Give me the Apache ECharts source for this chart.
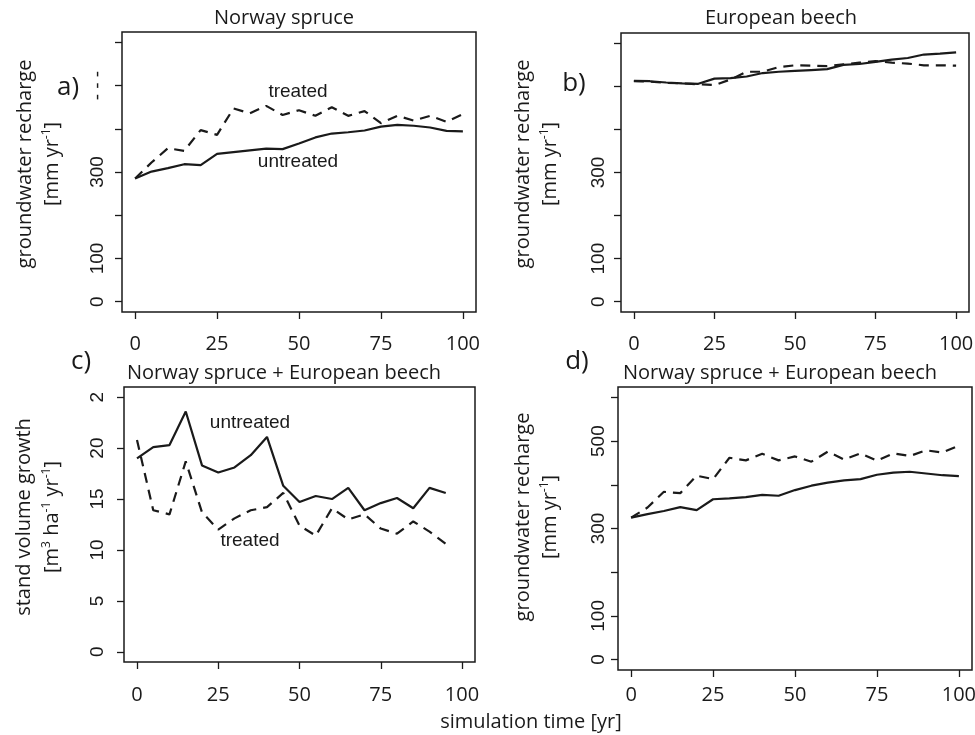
<!DOCTYPE html>
<html>
<head>
<meta charset="utf-8">
<script src="https://cdn.jsdelivr.net/npm/echarts@6/dist/echarts.min.js"></script>
<style>
html, body { margin: 0; padding: 0; background: #fff; }
#main { width: 975px; height: 735px; }
</style>
</head>
<body>
<div id="main"></div>
<script>
// simulation years
var years = [0, 5, 10, 15, 20, 25, 30, 35, 40, 45, 50, 55, 60, 65, 70, 75, 80, 85, 90, 95, 100];
var yearsC = [0, 5, 10, 15, 20, 25, 30, 35, 40, 45, 50, 55, 60, 65, 70, 75, 80, 85, 90, 95];
var xTicks = [0, 25, 50, 75, 100];
var rechargeTicks = [0, 100, 200, 300, 400, 500, 600];
var growthTicks = [0, 5, 10, 15, 20, 25];

// a) Norway spruce, groundwater recharge [mm/yr]
var aUntreated = [285, 301, 309, 318, 316, 342, 346, 350, 354, 353, 366, 380, 389, 392, 396, 405, 409, 407, 403, 395, 394];
var aTreated = [285, 322, 355, 349, 397, 386, 447, 436, 453, 432, 443, 430, 450, 430, 441, 413, 430, 419, 430, 416, 434];
// b) European beech
var bUntreated = [513, 512, 509, 507, 506, 518, 519, 523, 531, 534, 536, 538, 540, 550, 552, 557, 562, 566, 574, 576, 579];
var bTreated = [512, 511, 508, 507, 505, 503, 516, 534, 534, 545, 549, 548, 547, 551, 555, 559, 555, 553, 549, 549, 548];
// c) mixed stand, stand volume growth
var cUntreated = [19.0, 20.1, 20.3, 23.6, 18.3, 17.6, 18.1, 19.3, 21.1, 16.3, 14.7, 15.3, 15.0, 16.1, 13.9, 14.6, 15.1, 14.1, 16.1, 15.6];
var cTreated = [20.8, 13.9, 13.5, 18.7, 13.7, 12.0, 13.1, 13.9, 14.2, 15.6, 12.4, 11.4, 14.1, 13.0, 13.5, 12.1, 11.6, 12.8, 11.8, 10.6];
// d) mixed stand, groundwater recharge
var dUntreated = [325, 333, 340, 349, 342, 367, 369, 372, 377, 375, 388, 398, 405, 410, 413, 423, 428, 430, 426, 422, 420];
var dTreated = [325, 348, 384, 381, 421, 413, 462, 456, 471, 456, 465, 453, 476, 458, 472, 455, 472, 466, 479, 474, 490];

function pairs(xs, ys) {
	return xs.map(function(x, i) { return [x, ys[i]]; });
}

var INK = '#1a1a1a';
var CAL = '"Open Sans", "Noto Sans", sans-serif';
var ARIAL = '"Liberation Sans", Arial, sans-serif';

var grids = [
	{ left: 122, top: 32, width: 354, height: 280 },
	{ left: 621, top: 33, width: 348, height: 279 },
	{ left: 124, top: 387, width: 351, height: 275 },
	{ left: 618, top: 387, width: 354, height: 283 }
];
var xMargins = [22, 22, 23, 15];
var yMargins = [15, 13, 17, 10];

var xAxes = grids.map(function(g, i) {
	return {
		gridIndex: i, type: 'value', min: -4, max: 104,
		splitLine: { show: false },
		axisLine: { show: false, onZero: false },
		axisTick: { show: true, length: 7, customValues: xTicks, lineStyle: { color: INK, width: 1.3 } },
		axisLabel: { customValues: xTicks, margin: xMargins[i], fontFamily: CAL, fontSize: 20, color: INK }
	};
});

function yAxis(i, min, max, ticks, fmt) {
	return {
		gridIndex: i, type: 'value', min: min, max: max,
		splitLine: { show: false },
		axisLine: { show: false, onZero: false },
		axisTick: { show: true, length: 7, customValues: ticks, lineStyle: { color: INK, width: 1.3 } },
		axisLabel: {
			customValues: ticks, rotate: 90, margin: yMargins[i], fontFamily: ARIAL, fontSize: 19, color: INK,
			formatter: fmt
		}
	};
}

var yAxes = [
	yAxis(0, -24, 624, rechargeTicks, function(v) {
		return { 0: '0', 100: '100', 300: '300', 500: '- - -' }[v] || '';
	}),
	yAxis(1, -24, 624, rechargeTicks, function(v) {
		return { 0: '0', 100: '100', 300: '300' }[v] || '';
	}),
	yAxis(2, -1, 26, growthTicks, function(v) {
		return v === 25 ? '2' : String(v);
	}),
	yAxis(3, -24, 624, rechargeTicks, function(v) {
		return { 0: '0', 100: '100', 300: '300', 500: '500' }[v] || '';
	})
];

function line(i, data, dashed) {
	return {
		type: 'line', xAxisIndex: i, yAxisIndex: i, data: data,
		showSymbol: false, silent: true, animation: false,
		lineStyle: { color: INK, width: 2.2, type: dashed ? [10, 7] : 'solid' }
	};
}

var series = [
	line(0, pairs(years, aUntreated), false),
	line(0, pairs(years, aTreated), true),
	line(1, pairs(years, bUntreated), false),
	line(1, pairs(years, bTreated), true),
	line(2, pairs(yearsC, cUntreated), false),
	line(2, pairs(yearsC, cTreated), true),
	line(3, pairs(years, dUntreated), false),
	line(3, pairs(years, dTreated), true)
];

function txt(x, y, text, font, size, rot) {
	return {
		type: 'text', x: x, y: y, rotation: rot || 0, silent: true,
		style: { text: text, fontFamily: font, fontSize: size, fill: INK, align: 'center', verticalAlign: 'middle' }
	};
}

// axis name with superscripts, rotated
function yName(x, y, text) {
	return {
		type: 'text', x: x, y: y, rotation: Math.PI / 2, silent: true,
		style: {
			text: text, fill: INK, align: 'center', verticalAlign: 'middle',
			rich: {
				n: { fontFamily: CAL, fontSize: 20, fill: INK },
				s: { fontFamily: CAL, fontSize: 12, fill: INK, verticalAlign: 'top', padding: [0, 0, 10, 0] }
			}
		}
	};
}

var graphics = [
	txt(284, 18, 'Norway spruce', CAL, 20),
	txt(781, 18, 'European beech', CAL, 20),
	txt(284, 373, 'Norway spruce + European beech', CAL, 20),
	txt(780, 373, 'Norway spruce + European beech', CAL, 20),
	txt(68, 88, 'a)', CAL, 26),
	txt(574, 84, 'b)', CAL, 26),
	txt(81, 362, 'c)', CAL, 26),
	txt(577, 362, 'd)', CAL, 26),
	txt(298, 92, 'treated', ARIAL, 19),
	txt(298, 162, 'untreated', ARIAL, 19),
	txt(250, 423, 'untreated', ARIAL, 19),
	txt(250, 541, 'treated', ARIAL, 19),
	txt(531, 722, 'simulation time [yr]', CAL, 20),
	txt(25, 164, 'groundwater recharge', CAL, 20, Math.PI / 2),
	yName(52, 164, '{n|[mm yr}{s|-1}{n|]}'),
	txt(523, 164, 'groundwater recharge', CAL, 20, Math.PI / 2),
	yName(550, 164, '{n|[mm yr}{s|-1}{n|]}'),
	txt(24, 517, 'stand volume growth', CAL, 20, Math.PI / 2),
	yName(52, 517, '{n|[m}{s|3}{n| ha}{s|-1}{n| yr}{s|-1}{n|]}'),
	txt(523, 517, 'groundwater recharge', CAL, 20, Math.PI / 2),
	yName(550, 517, '{n|[mm yr}{s|-1}{n|]}')
];

var chart = echarts.init(document.getElementById('main'));
chart.setOption({
	backgroundColor: '#fff',
	animation: false,
	grid: grids.map(function(g) {
		return {
			left: g.left, top: g.top, width: g.width, height: g.height,
			show: true, borderColor: INK, borderWidth: 1.5, backgroundColor: 'transparent',
			outerBoundsMode: 'none'
		};
	}),
	xAxis: xAxes,
	yAxis: yAxes,
	series: series,
	graphic: graphics
});
</script>
</body>
</html>
